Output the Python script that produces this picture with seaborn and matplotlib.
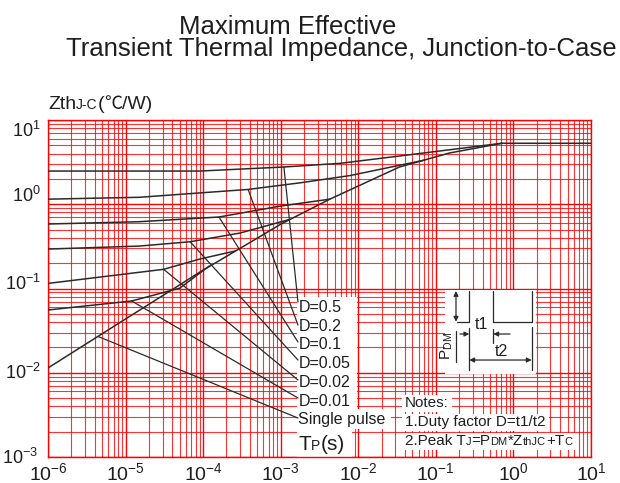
import numpy as np
import pandas as pd
import matplotlib
matplotlib.use("Agg")
import matplotlib.pyplot as plt
import seaborn as sns
from matplotlib.ticker import LogLocator, NullFormatter, LogFormatterSciNotation
from matplotlib.patches import Rectangle
from matplotlib.transforms import IdentityTransform, offset_copy, Bbox

# ---------------------------------------------------------------- data
# single-pulse envelope (s, degC/W)
single_t = [1e-6, 4.4e-6, 2.8e-5, 9.1e-5, 3.0e-4, 1.0e-3, 4.3e-3, 3.4e-2, 0.15, 0.71, 10.0]
single_z = [0.0114, 0.027, 0.079, 0.157, 0.30, 0.58, 1.15, 2.77, 4.06, 5.3, 5.3]

# duty-cycle curves, each drawn until it joins the single-pulse envelope
d05_t = [1e-6, 9.1e-5, 1.1e-3, 5.8e-3, 3.4e-2, 0.71]
d05_z = [2.48, 2.48, 2.77, 3.06, 3.74, 5.3]
d02_t = [1e-6, 1.5e-5, 3.8e-4, 1.8e-3, 7.8e-3, 7.2e-2]
d02_z = [1.15, 1.21, 1.50, 1.80, 2.19, 3.35]
d01_t = [1e-6, 1.5e-5, 1.6e-4, 1.0e-3, 4.3e-3]
d01_z = [0.583, 0.621, 0.706, 0.953, 1.15]
d005_t = [1e-6, 1.5e-5, 6.8e-5, 3.0e-4, 1.3e-3]
d005_z = [0.294, 0.319, 0.359, 0.456, 0.66]
d002_t = [1e-6, 3.1e-5, 9.1e-5, 2.6e-4]
d002_z = [0.115, 0.169, 0.224, 0.279]
d001_t = [1e-6, 1.2e-5, 5.0e-5, 1.2e-4]
d001_z = [0.0556, 0.0711, 0.101, 0.185]

curve_names = ["D=0.5", "D=0.2", "D=0.1", "D=0.05", "D=0.02", "D=0.01", "Single pulse"]
curve_t = [d05_t, d02_t, d01_t, d005_t, d002_t, d001_t, single_t]
curve_z = [d05_z, d02_z, d01_z, d005_z, d002_z, d001_z, single_z]

# points on each curve where its label leader starts
lead_t = [1.1e-3, 3.8e-4, 1.6e-4, 6.8e-5, 3.1e-5, 1.2e-5, 4.4e-6]
lead_z = [2.77, 1.50, 0.706, 0.359, 0.169, 0.0711, 0.027]

xtick_vals = [1e-6, 1e-5, 1e-4, 1e-3, 1e-2, 1e-1, 1e0, 1e1]
ytick_vals = [1e-3, 1e-2, 1e-1, 1e0, 1e1]
ytick_text = [r"$\mathdefault{10^{-3}}$", r"$\mathdefault{10^{-2}}$", r"$\mathdefault{10^{-1}}$",
              r"$\mathdefault{10^{0}}$", r"$\mathdefault{10^{1}}$"]

# ---------------------------------------------------------------- style
sns.set_theme(style="white")
plt.rcParams["font.family"] = ["Liberation Sans", "DejaVu Sans"]
plt.rcParams["mathtext.fontset"] = "custom"
plt.rcParams["mathtext.rm"] = "Liberation Sans"
plt.rcParams["mathtext.it"] = "Liberation Sans:italic"
plt.rcParams["mathtext.bf"] = "Liberation Sans:bold"
plt.rcParams["axes.unicode_minus"] = False

TEXT = "#1e1e1e"
LINE = "#2a2a2a"
GRID = "#ff0000"

fig = plt.figure(figsize=(6.2, 4.83), dpi=100)
ax = fig.add_axes([0.0774, 0.0538, 0.8758, 0.6977])
ax.set_xscale("log")
ax.set_yscale("log")

rows = []
for name, ts, zs in zip(curve_names, curve_t, curve_z):
    for t, z in zip(ts, zs):
        rows.append({"curve": name, "t": t, "z": z})
df = pd.DataFrame(rows)

sns.lineplot(data=df, x="t", y="z", units="curve", estimator=None, sort=False,
             color=LINE, lw=1.1, ax=ax, legend=False, zorder=4)

ax.set_xlim(1e-6, 10)
ax.set_ylim(1e-3, 10)
ax.set_xlabel("")
ax.set_ylabel("")

# log-paper grid
for axis in (ax.xaxis, ax.yaxis):
    axis.set_major_locator(LogLocator(base=10, numticks=20))
    axis.set_minor_locator(LogLocator(base=10, subs=np.arange(2, 10), numticks=100))
    axis.set_minor_formatter(NullFormatter())
ax.set_xticks(xtick_vals)
ax.xaxis.set_major_formatter(LogFormatterSciNotation())
ax.set_yticks(ytick_vals)
ax.set_yticklabels([])
ax.grid(which="major", color=GRID, lw=1.0, alpha=1.0)
ax.grid(which="minor", color=GRID, lw=0.8, alpha=0.8)
ax.set_axisbelow(True)
for sp in ax.spines.values():
    sp.set_color(GRID)
    sp.set_linewidth(1.0)
ax.tick_params(which="both", length=0)
ax.tick_params(axis="x", labelsize=14, labelcolor=TEXT, pad=4)

# y tick labels, nudged as on the printed sheet
y_nudge = [(-10, -1), (-7, 0), (-7, 5), (-7, 8), (-7, -11)]
for val, lab, (dx, dy) in zip(ytick_vals, ytick_text, y_nudge):
    tr = offset_copy(ax.get_yaxis_transform(), fig=fig, x=dx, y=dy, units="dots")
    ax.text(0, val, lab, transform=tr, ha="right", va="center", fontsize=13,
            color=TEXT, clip_on=False)

# white panels behind the curve labels
for (x0, y0, x1, y1) in [(0.4586, 0.1424, 0.5691, 0.4748),
                         (0.4586, 0.0831, 0.6317, 0.1424),
                         (0.4586, 0.0, 0.5599, 0.0831)]:
    ax.add_patch(Rectangle((x0, y0), x1 - x0, y1 - y0, transform=ax.transAxes,
                           facecolor="white", edgecolor="none", zorder=2))

# curve labels with leaders
label_y = [0.4312, 0.3748, 0.3205, 0.2632, 0.2086, 0.1522, 0.0979]
lead_end_y = [0.460, 0.3917, 0.3412, 0.2878, 0.2285, 0.1751, 0.1157]
for name, lt, lz, ly, ey in zip(curve_names, lead_t, lead_z, label_y, lead_end_y):
    ax.annotate("", xy=(lt, lz), xycoords="data", xytext=(0.4604, ey),
                textcoords="axes fraction",
                arrowprops=dict(arrowstyle="-", color=LINE, lw=0.9,
                                shrinkA=0, shrinkB=0), zorder=4)
    ax.text(0.4613, ly, name, transform=ax.transAxes, fontsize=11.5,
            color=TEXT, va="baseline", ha="left", zorder=5)

fig.canvas.draw()
renderer = fig.canvas.get_renderer()
CJK = ["Noto Sans CJK SC", "DejaVu Sans"]


def text_run(x, y, parts, coords, color=TEXT, zorder=6):
    """Write consecutive pieces of text on one baseline with mixed sizes."""
    px, py = coords.transform((x, y))
    out = []
    for part in parts:
        s, size = part[0], part[1]
        extra = {"family": part[2]} if len(part) > 2 else {}
        t = fig.text(px, py, s, fontsize=size, color=color, ha="left",
                     va="baseline", transform=IdentityTransform(), zorder=zorder,
                     **extra)
        px += t.get_window_extent(renderer).width
        out.append(t)
    return out


# axis titles
text_run(0.0774, 0.7743, [("Zth", 14), ("J-C", 10), ("(", 14),
                          ("\u2103", 13, CJK), ("/W)", 14)], fig.transFigure)
text_run(0.4613, 0.0208, [("T", 15), ("P", 10), ("(s)", 15)], ax.transAxes)

# notes with white backing
note_lines = [
    [("Notes:", 11)],
    [("1.Duty factor D=t1/t2", 11)],
    [("2.Peak T", 11), ("J", 8), ("=P", 11), ("DM", 8), ("*Z", 11), ("thJC", 8),
     ("+T", 11), ("C", 8)],
]
note_y = [0.1484, 0.0920, 0.0356]
for parts, ny in zip(note_lines, note_y):
    arts = text_run(0.6575, ny, parts, ax.transAxes)
    bb = Bbox.union([a.get_window_extent(renderer) for a in arts])
    ax.add_patch(Rectangle((bb.x0 - 3, bb.y0 - 2), bb.width + 6, bb.height + 3,
                           transform=IdentityTransform(), facecolor="white",
                           edgecolor="none", zorder=2))

# pulse sketch
T = ax.transAxes
ax.add_patch(Rectangle((0.7311, 0.2463), 0.1676, 0.2492, transform=T,
                       facecolor="white", edgecolor="none", zorder=2))
kw = dict(color=LINE, lw=0.9, transform=T, zorder=4, clip_on=False)
ax.plot([0.7527, 0.7759, 0.7759], [0.4015, 0.4015, 0.4926], **kw)
ax.plot([0.8201, 0.8201, 0.8908, 0.8908], [0.4926, 0.4015, 0.4015, 0.4926], **kw)
ax.plot([0.7514, 0.7514], [0.3739, 0.2819], **kw)
ax.plot([0.7759, 0.7759], [0.3828, 0.2582], **kw)
ax.plot([0.8201, 0.8201], [0.3798, 0.3383], **kw)
ax.plot([0.8908, 0.8908], [0.3858, 0.2582], **kw)
arrow = dict(arrowstyle="-|>", color=LINE, lw=0.9, mutation_scale=7,
             shrinkA=0, shrinkB=0)
arrow2 = dict(arrowstyle="<|-|>", color=LINE, lw=0.9, mutation_scale=7,
              shrinkA=0, shrinkB=0)
ax.annotate("", xy=(0.7514, 0.4926), xytext=(0.7514, 0.4015), xycoords=T,
            textcoords=T, arrowprops=arrow2, zorder=4)
ax.annotate("", xy=(0.7759, 0.365), xytext=(0.7587, 0.365), xycoords=T,
            textcoords=T, arrowprops=arrow, zorder=4)
ax.annotate("", xy=(0.8201, 0.365), xytext=(0.8508, 0.365), xycoords=T,
            textcoords=T, arrowprops=arrow, zorder=4)
ax.annotate("", xy=(0.7759, 0.2878), xytext=(0.8908, 0.2878), xycoords=T,
            textcoords=T, arrowprops=arrow2, zorder=4)
ax.text(0.7974, 0.3947, "t1", transform=T, fontsize=11.5, color=TEXT,
        ha="center", va="center", zorder=5)
ax.text(0.8355, 0.3145, "t2", transform=T, fontsize=11.5, color=TEXT,
        ha="center", va="center", zorder=5)
ax.text(0.7339, 0.3309, r"P$_{\mathregular{DM}}$", transform=T, fontsize=11,
        color=TEXT, ha="center", va="center", rotation=90, zorder=5)

# chart title
fig.text(0.4645, 0.9296, "Maximum Effective", fontsize=18.5, color=TEXT,
         ha="center", va="baseline")
fig.text(0.5500, 0.8841, "Transient Thermal Impedance, Junction-to-Case",
         fontsize=18.5, color=TEXT, ha="center", va="baseline")

fig.savefig("out.png", dpi=100)
